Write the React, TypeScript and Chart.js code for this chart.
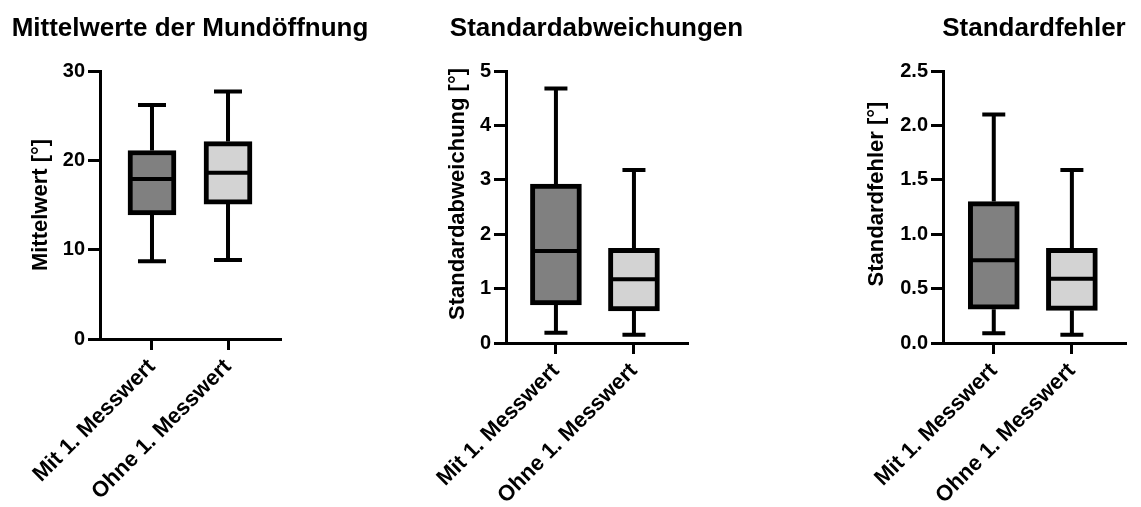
import React, { useEffect, useRef } from 'react';
import { Chart, registerables } from 'chart.js';

Chart.register(...registerables);

// Groups shown on every x axis
const categories = ['Mit 1. Messwert', 'Ohne 1. Messwert'];

// Mittelwerte der Mundöffnung [°]
const meanMin = [8.7, 8.85];
const meanQ1 = [13.9, 15.1];
const meanMedian = [17.9, 18.6];
const meanQ3 = [21.1, 22.1];
const meanMax = [26.2, 27.7];
const meanTicks = [0, 10, 20, 30];

// Standardabweichungen [°]
const sdMin = [0.19, 0.15];
const sdQ1 = [0.7, 0.59];
const sdMedian = [1.69, 1.17];
const sdQ3 = [2.92, 1.74];
const sdMax = [4.68, 3.18];
const sdTicks = [0, 1, 2, 3, 4, 5];

// Standardfehler [°]
const seMin = [0.09, 0.076];
const seQ1 = [0.31, 0.3];
const seMedian = [0.76, 0.59];
const seQ3 = [1.3, 0.87];
const seMax = [2.1, 1.59];
const seTicks = [0, 0.5, 1.0, 1.5, 2.0, 2.5];

const boxColors = ['#808080', '#d3d3d3'];

const FONT = "'Liberation Sans', Arial, Helvetica, sans-serif";
const HEIGHT = 507;
const BOX_BORDER = 5;

type Panel = {
  title: string;
  yTitle: string;
  min: number[];
  q1: number[];
  median: number[];
  q3: number[];
  max: number[];
  ticks: number[];
  decimals: number;
  // layout
  left: number;
  width: number;
  plotLeft: number;
  plotRight: number;
  plotTop: number;
  plotBottom: number;
  xMin: number;
  xMax: number;
  barWidth: number;
  capWidth: number;
  yTitleX: number;
  yTitleY: number;
};

const panels: Panel[] = [
  {
    title: 'Mittelwerte der Mundöffnung',
    yTitle: 'Mittelwert [°]',
    min: meanMin, q1: meanQ1, median: meanMedian, q3: meanQ3, max: meanMax,
    ticks: meanTicks, decimals: 0,
    left: 0, width: 380, plotLeft: 100, plotRight: 280, plotTop: 71, plotBottom: 339,
    xMin: -0.684, xMax: 1.684, barWidth: 48, capWidth: 28,
    yTitleX: 41, yTitleY: 205,
  },
  {
    title: 'Standardabweichungen',
    yTitle: 'Standardabweichung [°]',
    min: sdMin, q1: sdQ1, median: sdMedian, q3: sdQ3, max: sdMax,
    ticks: sdTicks, decimals: 0,
    left: 380, width: 380, plotLeft: 126, plotRight: 307, plotTop: 71, plotBottom: 343,
    xMin: -0.64, xMax: 1.68, barWidth: 51, capWidth: 23,
    yTitleX: 78, yTitleY: 194,
  },
  {
    title: 'Standardfehler',
    yTitle: 'Standardfehler [°]',
    min: seMin, q1: seQ1, median: seMedian, q3: seQ3, max: seMax,
    ticks: seTicks, decimals: 1,
    left: 760, width: 381, plotLeft: 183, plotRight: 365, plotTop: 71, plotBottom: 343,
    xMin: -0.65, xMax: 1.68, barWidth: 51, capWidth: 23,
    yTitleX: 117, yTitleY: 194,
  },
];

// Whiskers, caps and median lines on top of the floating-bar boxes,
// plus the panel heading and the rotated y-axis caption.
const boxWhiskerPlugin = {
  id: 'boxWhiskers',
  afterDatasetsDraw(chart: any, _args: any, opts: any) {
    const p: Panel = opts.panel;
    if (!p) return;
    const { ctx } = chart;
    const xs = chart.scales.x;
    const ys = chart.scales.y;
    const meta = chart.getDatasetMeta(0);
    ctx.save();
    ctx.strokeStyle = '#000';
    ctx.lineWidth = 4;
    ctx.lineCap = 'butt';
    p.q1.forEach((_: number, i: number) => {
      const cx = xs.getPixelForValue(i);
      const half = p.capWidth / 2;
      const bar = meta.data[i];
      const bw = (bar ? bar.width : p.barWidth) / 2;
      const yMin = ys.getPixelForValue(p.min[i]);
      const yQ1 = ys.getPixelForValue(p.q1[i]);
      const yMed = ys.getPixelForValue(p.median[i]);
      const yQ3 = ys.getPixelForValue(p.q3[i]);
      const yMax = ys.getPixelForValue(p.max[i]);
      ctx.beginPath();
      ctx.moveTo(cx, yQ3);
      ctx.lineTo(cx, yMax);
      ctx.moveTo(cx - half, yMax);
      ctx.lineTo(cx + half, yMax);
      ctx.moveTo(cx, yQ1);
      ctx.lineTo(cx, yMin);
      ctx.moveTo(cx - half, yMin);
      ctx.lineTo(cx + half, yMin);
      ctx.moveTo(cx - bw + BOX_BORDER / 2, yMed);
      ctx.lineTo(cx + bw - BOX_BORDER / 2, yMed);
      ctx.stroke();
    });
    ctx.restore();
  },
  afterDraw(chart: any, _args: any, opts: any) {
    const p: Panel = opts.panel;
    if (!p) return;
    const { ctx, chartArea } = chart;
    ctx.save();
    ctx.fillStyle = '#000';
    // heading, centred over the plot area
    ctx.font = `bold 26px ${FONT}`;
    ctx.textAlign = 'center';
    ctx.textBaseline = 'alphabetic';
    ctx.fillText(p.title, (chartArea.left + chartArea.right) / 2, 36);
    // y-axis caption
    ctx.translate(p.yTitleX, p.yTitleY);
    ctx.rotate(-Math.PI / 2);
    ctx.font = `bold 22px ${FONT}`;
    ctx.textAlign = 'center';
    ctx.textBaseline = 'middle';
    ctx.fillText(p.yTitle, 0, 0);
    ctx.restore();
  },
};

function BoxPanel({ panel }: { panel: Panel }) {
  const ref = useRef<HTMLCanvasElement>(null);

  useEffect(() => {
    if (!ref.current) return;
    const yMax = panel.ticks[panel.ticks.length - 1];
    const chart = new Chart(ref.current, {
      type: 'bar',
      data: {
        datasets: [
          {
            data: categories.map((_, i) => ({ x: i, y: [panel.q1[i], panel.q3[i]] })) as any,
            backgroundColor: boxColors,
            borderColor: '#000',
            borderWidth: BOX_BORDER,
            borderSkipped: false,
            barThickness: panel.barWidth,
          },
        ],
      },
      options: {
        animation: false,
        responsive: false,
        devicePixelRatio: 1,
        layout: {
          padding: { left: 0, right: panel.width - panel.plotRight, top: panel.plotTop, bottom: 0 },
        },
        plugins: {
          legend: { display: false },
          tooltip: { enabled: false },
          title: { display: false },
          boxWhiskers: { panel } as any,
        } as any,
        scales: {
          x: {
            type: 'linear',
            offset: false,
            min: panel.xMin,
            max: panel.xMax,
            afterBuildTicks: (s: any) => {
              s.ticks = categories.map((_, i) => ({ value: i }));
            },
            afterFit: (s: any) => {
              s.height = HEIGHT - panel.plotBottom;
            },
            ticks: {
              autoSkip: false,
              minRotation: 45,
              maxRotation: 45,
              padding: 4,
              color: '#000',
              font: { family: FONT, size: 22, weight: 'bold' },
              callback: (_v: any, i: number) => categories[i],
            },
            grid: { offset: false, drawOnChartArea: false, tickLength: 11, lineWidth: 3, color: '#000' },
            border: { display: true, color: '#000', width: 3 },
          },
          y: {
            min: 0,
            max: yMax,
            afterBuildTicks: (s: any) => {
              s.ticks = panel.ticks.map((v) => ({ value: v }));
            },
            afterFit: (s: any) => {
              s.width = panel.plotLeft;
            },
            ticks: {
              padding: 3,
              color: '#000',
              font: { family: FONT, size: 20, weight: 'bold' },
              callback: (v: any) => Number(v).toFixed(panel.decimals),
            },
            grid: { drawOnChartArea: false, tickLength: 12, lineWidth: 3, color: '#000' },
            border: { display: true, color: '#000', width: 3 },
          },
        },
      } as any,
      plugins: [boxWhiskerPlugin],
    });
    return () => chart.destroy();
  }, [panel]);

  return (
    <div style={{ position: 'absolute', left: panel.left, top: 0, width: panel.width, height: HEIGHT }}>
      <canvas ref={ref} width={panel.width} height={HEIGHT} />
    </div>
  );
}

export default function App() {
  return (
    <div style={{ position: 'absolute', left: 0, top: 0, width: 1141, height: HEIGHT, background: '#fff' }}>
      {panels.map((p) => (
        <BoxPanel key={p.title} panel={p} />
      ))}
    </div>
  );
}
